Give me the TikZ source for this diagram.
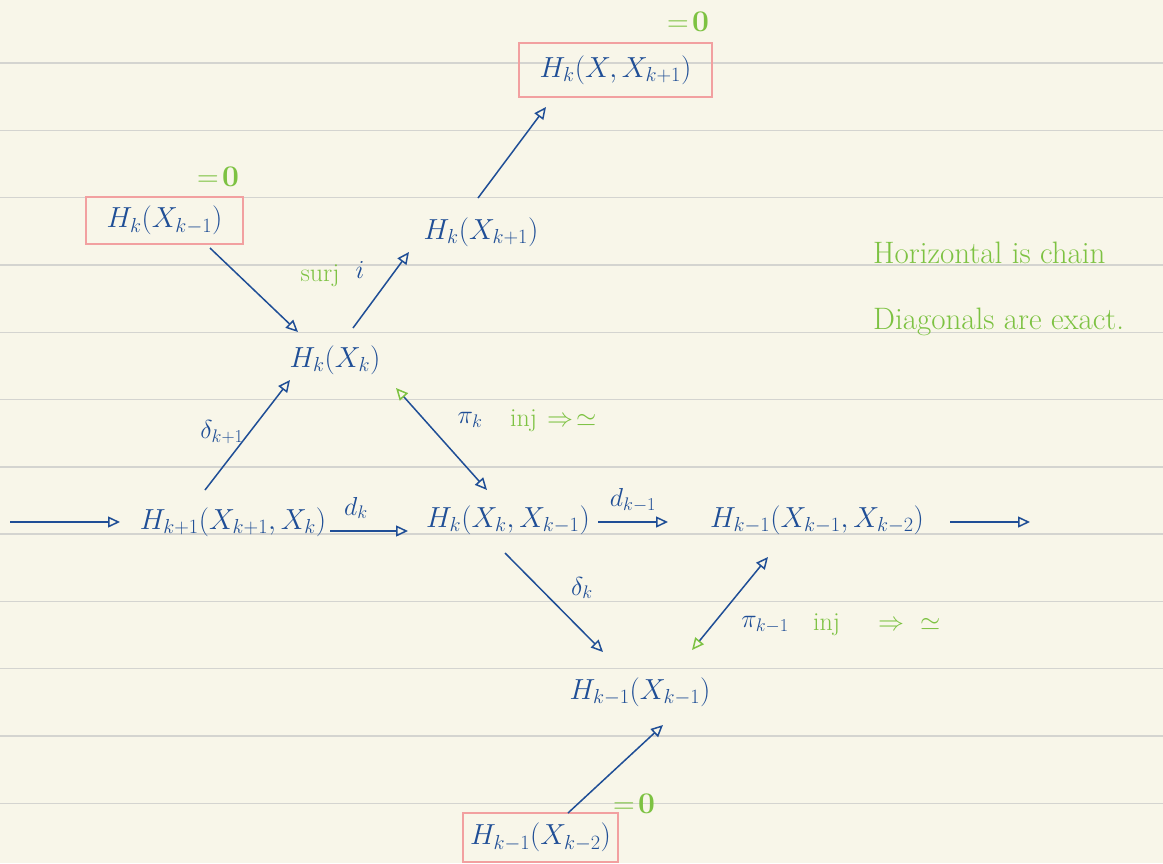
\RequirePackage{fix-cm}
\documentclass[tikz,border=0pt]{standalone}
\usepackage{amsmath,amssymb}
\usetikzlibrary{arrows.meta}
\definecolor{paper}{HTML}{F8F6E9}
\definecolor{rulegray}{HTML}{D4D4D0}
\definecolor{ink}{HTML}{1F4E96}
\definecolor{greenink}{HTML}{7DC242}
\definecolor{pinkbox}{HTML}{F2A0A0}
\tikzset{
  rule/.style={rulegray, line width=1.4pt},
  term/.style={text=ink, font=\fontsize{29}{33}\selectfont, inner sep=0pt},
  zerobox/.style={term, draw=pinkbox, line width=1.5pt},
  arr/.style={ink, line width=1.5pt, -{Triangle[open, length=12pt, width=11pt, line width=1.5pt]}},
  biarr/.style={ink, line width=1.5pt, {Triangle[open, length=12pt, width=11pt, line width=1.5pt, color=greenink]}-{Triangle[open, length=12pt, width=11pt, line width=1.5pt]}},
  lab/.style={text=ink, font=\fontsize{26}{30}\selectfont, inner sep=0pt},
  note/.style={text=greenink, font=\fontsize{26}{30}\selectfont, inner sep=0pt},
  bignote/.style={text=greenink, font=\fontsize{31}{34}\selectfont, inner sep=0pt},
  zero/.style={text=greenink, font=\bfseries\fontsize{30}{32}\selectfont, inner sep=0pt}
}
\begin{document}
\begin{tikzpicture}[x=1pt,y=-1pt]
\useasboundingbox (0,0) rectangle (1163,863);
\fill[paper] (0,0) rectangle (1163,863);
\foreach \i in {0,...,11} \draw[rule] (0,63+67.3*\i) -- (1163,63+67.3*\i);

% nodes
\node[zerobox, minimum width=193pt, minimum height=54pt] (top) at (615.5,70) {$H_k(X,X_{k+1})$};
\node[zerobox, minimum width=157pt, minimum height=47pt] (lbox) at (164.5,220.5) {$H_k(X_{k-1})$};
\node[term] (hkx1) at (481,232) {$H_k(X_{k+1})$};
\node[term] (hk) at (335,360) {$H_k(X_k)$};
\node[term] (c1) at (233,522) {$H_{k+1}(X_{k+1},X_k)$};
\node[term] (c2) at (508,520) {$H_k(X_k,X_{k-1})$};
\node[term] (c3) at (817,520) {$H_{k-1}(X_{k-1},X_{k-2})$};
\node[term] (hkm) at (640,692) {$H_{k-1}(X_{k-1})$};
\node[zerobox, minimum width=155pt, minimum height=49pt] (bbox) at (540.5,837.5) {$H_{k-1}(X_{k-2})$};
\coordinate (lstart) at (10,522);
\coordinate (rend) at (1030,522);

% zeros
\node[zero] (z1) at (688,22) {$=\!\mathbf{0}$};
\node[zero] (z2) at (218,177) {$=\!\mathbf{0}$};
\node[zero] (z3) at (634,804) {$=\!\mathbf{0}$};

% arrows
\draw[arr] ([shift={(45.5,27.5)}]lbox.center) -- ([shift={(-37,-28)}]hk.center);
\draw[arr] ([shift={(18,-32)}]hk.center) -- ([shift={(-72,20)}]hkx1.center);
\draw[arr] ([shift={(-3,-34)}]hkx1.center) -- ([shift={(-69.5,37)}]top.center);
\draw[arr] ([shift={(-28,-32)}]c1.center) -- ([shift={(-45,20)}]hk.center);
\draw[biarr] ([shift={(61,28)}]hk.center) -- ([shift={(-21,-30)}]c2.center);
\draw[arr] (lstart) -- ([shift={(-113,0)}]c1.center);
\draw[arr] ([shift={(97,9)}]c1.center) -- ([shift={(-100,11)}]c2.center);
\draw[arr] ([shift={(90,2)}]c2.center) -- ([shift={(-149,2)}]c3.center);
\draw[arr] ([shift={(133,2)}]c3.center) -- (rend);
\draw[arr] ([shift={(-3,33)}]c2.center) -- ([shift={(-37,-40)}]hkm.center);
\draw[biarr] ([shift={(52,-42)}]hkm.center) -- ([shift={(-49,37)}]c3.center);
\draw[arr] ([shift={(27.5,-24.5)}]bbox.center) -- ([shift={(23,33)}]hkm.center);

% labels
\node[lab] (ldk1) at (222,432) {$\delta_{k+1}$};
\node[lab] (ldk) at (356,508) {$d_k$};
\node[lab] (ldkm) at (633,500) {$d_{k-1}$};
\node[lab] (ldeltak) at (582,588) {$\delta_k$};
\node[note] (surj) at (320,276) {surj};
\node[lab] (li) at (360,270) {$i$};
\node[lab] (lpik) at (470,420) {$\pi_k$};
\node[note, anchor=west] (inj1) at (510,421) {inj\hspace{10pt}$\Rightarrow$\hspace{3pt}$\simeq$};
\node[lab] (lpikm) at (765,625) {$\pi_{k-1}$};
\node[note, anchor=west] (inj2) at (813,625) {inj\hspace{38pt}$\Rightarrow$\hspace{16pt}$\simeq$};
\node[bignote, anchor=west] (n1) at (873,253) {Horizontal is chain};
\node[bignote, anchor=west] (n2) at (873,322) {Diagonals are exact.};
\end{tikzpicture}
\end{document}
